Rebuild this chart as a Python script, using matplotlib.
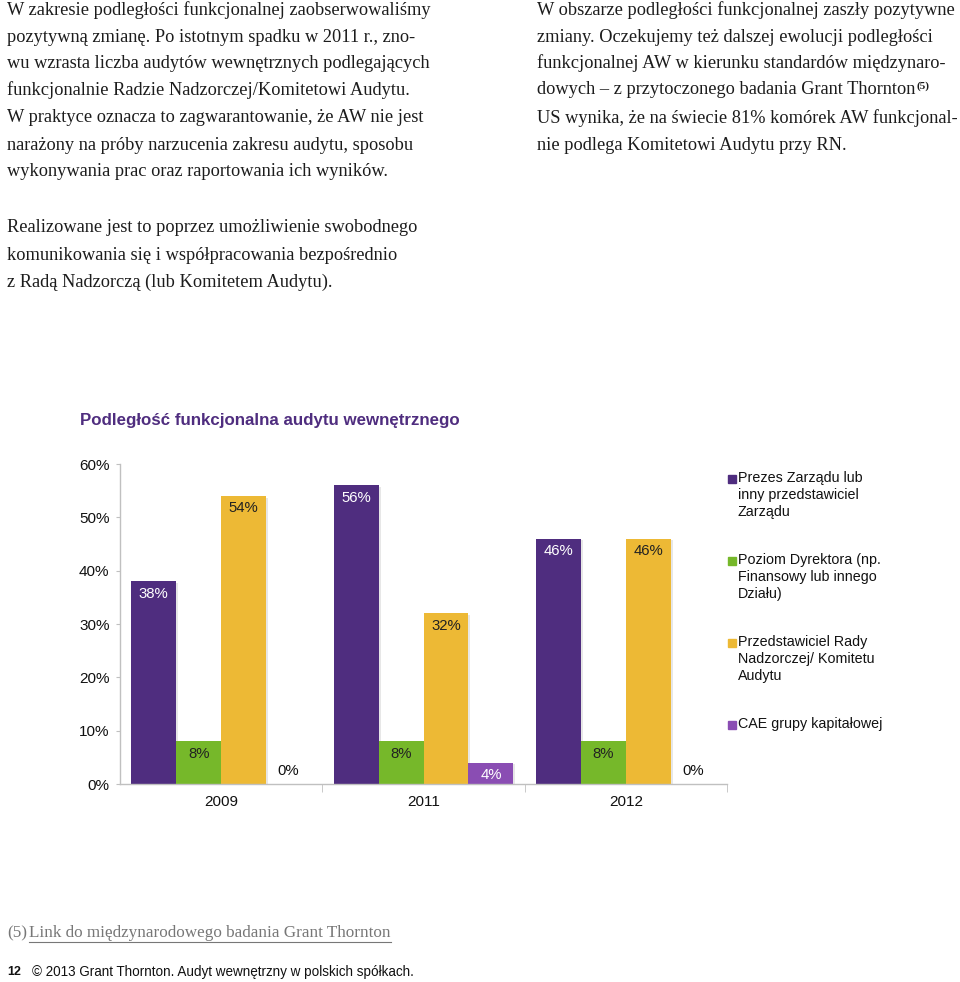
import matplotlib
matplotlib.use("Agg")
import matplotlib.pyplot as plt
from matplotlib.patches import Rectangle
from matplotlib.lines import Line2D
import numpy as np

# ---------------- data ----------------
years = ["2009", "2011", "2012"]
series_names = [
    "Prezes Zarządu lub\ninny przedstawiciel\nZarządu",
    "Poziom Dyrektora (np.\nFinansowy lub innego\nDziału)",
    "Przedstawiciel Rady\nNadzorczej/ Komitetu\nAudytu",
    "CAE grupy kapitałowej",
]
prezes = [38, 56, 46]
dyrektor = [8, 8, 8]
rada = [54, 32, 46]
cae = [0, 4, 0]
yticks = [0, 10, 20, 30, 40, 50, 60]
title = "Podległość funkcjonalna audytu wewnętrznego"

left_col = [
    "W zakresie podległości funkcjonalnej zaobserwowaliśmy",
    "pozytywną zmianę. Po istotnym spadku w 2011 r., zno-",
    "wu wzrasta liczba audytów wewnętrznych podlegających",
    "funkcjonalnie Radzie Nadzorczej/Komitetowi Audytu.",
    "W praktyce oznacza to zagwarantowanie, że AW nie jest",
    "narażony na próby narzucenia zakresu audytu, sposobu",
    "wykonywania prac oraz raportowania ich wyników.",
]
right_col = [
    "W obszarze podległości funkcjonalnej zaszły pozytywne",
    "zmiany. Oczekujemy też dalszej ewolucji podległości",
    "funkcjonalnej AW w kierunku standardów międzynaro-",
    "dowych – z przytoczonego badania Grant Thornton",
    "US wynika, że na świecie 81% komórek AW funkcjonal-",
    "nie podlega Komitetowi Audytu przy RN.",
]
para2 = [
    "Realizowane jest to poprzez umożliwienie swobodnego",
    "komunikowania się i współpracowania bezpośrednio",
    "z Radą Nadzorczą (lub Komitetem Audytu).",
]
footnote_num = "(5)"
footnote_link = "Link do międzynarodowego badania Grant Thornton"
footer_page = "12"
footer_text = "© 2013 Grant Thornton. Audyt wewnętrzny w polskich spółkach."

# ---------------- style ----------------
colors = ["#4F2D7F", "#76B82A", "#EDB935", "#8A4DB3"]
label_colors = ["white", "#222222", "#222222", "white"]
SERIF = "Liberation Serif"
SANS = "Liberation Sans"
W, H = 960, 982
fig = plt.figure(figsize=(W / 100, H / 100), dpi=100)
fig.patch.set_facecolor("white")

def fx(x):
    return x / W

def fy(y):
    return 1 - y / H

body_kw = dict(family=SERIF, fontsize=13.2, color="#1c1c1c", va="center", ha="left")
left_y = [10, 37, 63, 90, 118, 145, 172]
for t, y in zip(left_col, left_y):
    fig.text(fx(7), fy(y), t, **body_kw)
right_y = [10, 37, 63, 90, 118, 145]
right_texts = []
for t, y in zip(right_col, right_y):
    right_texts.append(fig.text(fx(537), fy(y), t, **body_kw))
p2_y = [228, 255, 282]
for t, y in zip(para2, p2_y):
    fig.text(fx(7), fy(y), t, **body_kw)

# ---------------- chart ----------------
ax = fig.add_axes([fx(120), fy(784), fx(727) - fx(120), fy(464) - fy(784)])
x = np.arange(len(years))
bw = 0.222
all_series = [prezes, dyrektor, rada, cae]
for i, vals in enumerate(all_series):
    xpos = x + (i - 1.5) * bw
    ax.bar(xpos + 0.010, vals, bw, color="#d0d0d0", alpha=0.5, zorder=1, linewidth=0, bottom=-0.3)
    ax.bar(xpos, vals, bw, color=colors[i], zorder=2, linewidth=0)
    for xp, v in zip(xpos, vals):
        if v > 0:
            ax.text(xp, v - 2.3, f"{v}%", ha="center", va="center", family=SANS,
                    fontsize=10.7, color=label_colors[i], zorder=3)
        else:
            ax.text(xp, 2.4, f"{v}%", ha="center", va="center", family=SANS,
                    fontsize=10.7, color="#111111", zorder=3)

ax.set_xlim(-0.5, 2.5)
ax.set_ylim(0, 60)
ax.set_yticks(yticks)
ax.set_yticklabels([f"{t}%" for t in yticks], family=SANS, fontsize=11, color="#111111")
ax.set_xticks(x)
ax.set_xticklabels(years, family=SANS, fontsize=11, color="#111111")
ax.tick_params(axis="x", length=0, pad=8)
ax.set_xticks([0.5, 1.5, 2.5], minor=True)
ax.tick_params(axis="x", which="minor", length=6, color="#c0c0c0", direction="out")
ax.tick_params(axis="y", length=3, color="#c0c0c0", pad=4.5)
for s in ["top", "right"]:
    ax.spines[s].set_visible(False)
for s in ["left", "bottom"]:
    ax.spines[s].set_color("#c0c0c0")
    ax.spines[s].set_linewidth(1)
ax.set_facecolor("none")

fig.text(fx(80), fy(420), title, family=SANS, fontsize=12.2, fontweight="bold",
         color="#4F2D7F", va="center", ha="left")

# legend
leg_y = [479, 561, 643, 725]
for i, (name, y) in enumerate(zip(series_names, leg_y)):
    fig.patches.append(Rectangle((fx(728), fy(y + 4)), fx(8), fy(0) - fy(8),
                                 transform=fig.transFigure, color=colors[i], figure=fig))
    fig.text(fx(738), fy(y - 8), name, family=SANS, fontsize=10.3, color="#111111",
             va="top", ha="left", linespacing=1.27)

# footnote
fn1 = fig.text(fx(7), fy(933), footnote_num, family=SERIF, fontsize=12.3, color="#777777",
               va="center", ha="left")
fn2 = fig.text(fx(29), fy(933), footnote_link, family=SERIF, fontsize=12.3, color="#777777",
               va="center", ha="left")
fig.text(fx(7), fy(972), footer_page, family=SANS, fontsize=9, fontweight="bold",
         color="#111111", va="center", ha="left")
fig.text(fx(32), fy(972), footer_text, family=SANS, fontsize=9.75, color="#111111",
         va="center", ha="left")

fig.canvas.draw()
r = fig.canvas.get_renderer()
bb = fn2.get_window_extent(r)
fig.lines.append(Line2D([bb.x0 / W, bb.x1 / W], [fy(942), fy(942)], transform=fig.transFigure,
                        color="#777777", linewidth=0.8))
bb4 = right_texts[3].get_window_extent(r)
fig.text(bb4.x1 / W + 0.001, fy(86), "(5)", family=SERIF, fontsize=8, fontweight="bold",
         color="#1c1c1c", va="center", ha="left")

fig.savefig("out.png", dpi=100, facecolor="white")
